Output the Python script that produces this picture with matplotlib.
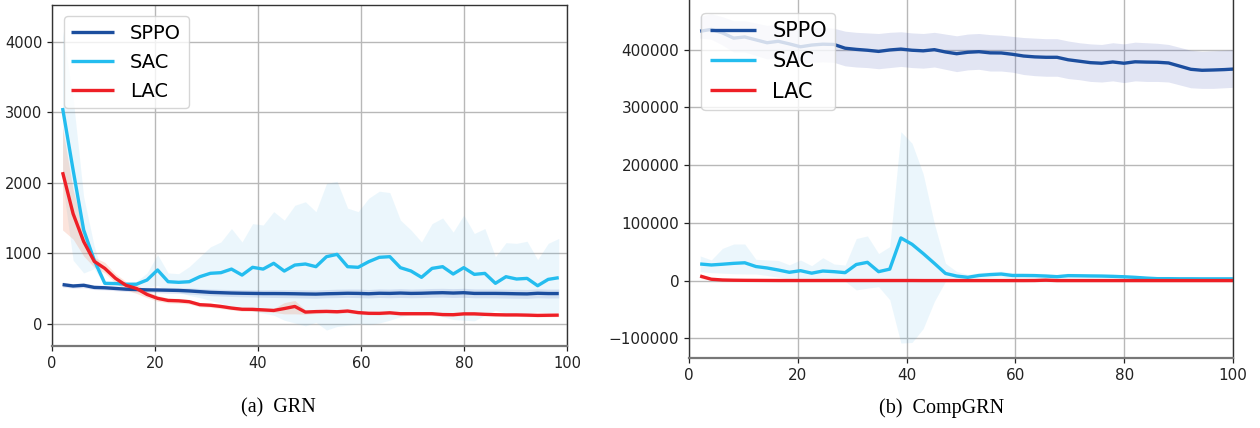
import numpy as np
import matplotlib
matplotlib.use("Agg")
import matplotlib.pyplot as plt

# ---------------- data ----------------
# training step axis (GRN: 48 evaluations, CompGRN: 49 evaluations)
steps_grn = np.arange(1, 49) * 2.05
steps_comp = np.arange(1, 50) * 2.05

# GRN
grn_sppo = [555, 535, 545, 515, 510, 500, 490, 485, 480, 478, 475, 472, 465, 455, 445, 440,
            435, 432, 430, 428, 428, 427, 425, 422, 420, 425, 428, 432, 430, 425, 432, 430,
            435, 430, 432, 437, 440, 435, 440, 430, 430, 430, 428, 425, 423, 432, 428, 428]
grn_sppo_lo = [520, 505, 510, 485, 480, 468, 458, 452, 445, 440, 432, 430, 420, 410, 398, 392,
               386, 382, 378, 375, 372, 370, 368, 365, 362, 368, 370, 374, 370, 365, 372, 368,
               372, 368, 370, 375, 378, 372, 375, 368, 368, 366, 364, 362, 360, 368, 364, 365]
grn_sppo_hi = [590, 568, 580, 548, 545, 535, 525, 520, 518, 516, 515, 512, 508, 500, 492, 488,
               485, 482, 480, 480, 482, 482, 482, 480, 478, 485, 490, 492, 492, 486, 494, 492,
               498, 492, 495, 500, 502, 498, 502, 494, 494, 494, 492, 490, 488, 496, 492, 492]

grn_sac = [3060, 2180, 1330, 900, 573, 570, 560, 560, 620, 762, 596, 587, 596, 667, 715, 724,
           775, 690, 800, 775, 857, 747, 832, 847, 809, 951, 984, 809, 800, 880, 942, 951,
           795, 748, 658, 785, 809, 705, 795, 700, 714, 573, 667, 634, 643, 539, 629, 653]
grn_sac_lo = [2000, 900, 720, 780, 545, 540, 535, 530, 520, 540, 470, 450, 400, 370, 330, 290,
              220, 220, 180, 150, 120, 50, 10, -30, 20, -90, -40, -20, 0, -10, 10, 50,
              100, 130, 170, 120, 100, 60, 50, 40, 120, 190, 150, 130, 140, 170, 150, 160]
grn_sac_hi = [4150, 3200, 1800, 1100, 600, 590, 580, 600, 720, 980, 720, 710, 810, 950, 1090, 1160,
              1350, 1160, 1420, 1400, 1590, 1470, 1680, 1730, 1590, 1990, 2020, 1640, 1590, 1780, 1880, 1860,
              1470, 1330, 1160, 1420, 1500, 1300, 1540, 1280, 1350, 950, 1150, 1140, 1170, 910, 1140, 1210]

grn_lac = [2150, 1560, 1165, 885, 785, 645, 545, 500, 415, 360, 330, 325, 312, 270, 262, 245,
           222, 205, 204, 196, 188, 215, 245, 165, 172, 175, 170, 180, 158, 148, 147, 155,
           142, 142, 142, 142, 130, 128, 140, 140, 133, 128, 125, 125, 122, 118, 120, 122]
grn_lac_lo = [1330, 1200, 960, 800, 720, 580, 480, 430, 370, 320, 295, 290, 280, 240, 232, 215,
              195, 178, 175, 168, 160, 140, 140, 135, 145, 150, 145, 155, 135, 125, 125, 132,
              120, 120, 120, 120, 108, 106, 118, 118, 112, 106, 104, 104, 100, 96, 98, 100]
grn_lac_hi = [2780, 1900, 1350, 940, 870, 710, 600, 560, 460, 400, 365, 360, 345, 300, 292, 275,
              250, 232, 232, 224, 216, 300, 330, 195, 200, 200, 195, 205, 180, 170, 170, 178,
              164, 164, 164, 164, 152, 150, 162, 162, 154, 150, 146, 146, 144, 140, 142, 144]

# CompGRN
comp_sppo = [432000, 435000, 429000, 420000, 422000, 417000, 412000, 414500, 410000, 405000,
             408000, 409500, 409000, 402500, 400500, 399000, 397000, 399500, 401000, 399000,
             398000, 400000, 396000, 393000, 395500, 396500, 394500, 394300, 392000, 389000,
             387500, 386800, 386800, 382500, 380000, 377500, 376500, 378700, 376500, 379000,
             378500, 378200, 377000, 371500, 366000, 364300, 364800, 365500, 366600]
comp_sppo_lo = [420000, 418000, 408000, 396000, 396000, 390000, 384000, 386000, 381000, 376000,
                378000, 379000, 378000, 372000, 370000, 369000, 367000, 369000, 371000, 369000,
                368000, 370000, 366000, 362000, 365000, 366000, 363000, 363000, 361000, 357000,
                355000, 354000, 354000, 350000, 348000, 345000, 344000, 346000, 343000, 346000,
                345000, 345000, 344000, 339000, 334000, 333000, 333000, 334000, 335000]
comp_sppo_hi = [458000, 462000, 457000, 450000, 450000, 446000, 442000, 444000, 440000, 436000,
                438000, 438000, 437000, 432000, 430000, 429000, 428000, 430000, 431000, 429000,
                428000, 430000, 427000, 424000, 427000, 428000, 426000, 425000, 423000, 421000,
                420000, 419000, 419000, 415000, 412000, 410000, 409000, 412000, 410000, 413000,
                412000, 411000, 409000, 404000, 399000, 397000, 398000, 399000, 400000]

comp_sac = [28900, 27200, 28500, 30000, 31000, 24500, 22000, 18500, 14500, 17300,
            13000, 16700, 15600, 13900, 28000, 31800, 15600, 20000, 74000, 63000,
            47000, 30000, 12500, 8000, 5800, 9000, 10500, 11500, 9000, 9000,
            8800, 8000, 6900, 8700, 8500, 8200, 8000, 7500, 6800, 5800,
            4500, 3500, 3500, 3300, 3300, 3200, 3200, 3200, 3200]
comp_sac_lo = [15600, 14000, 13000, 12000, 11600, 11600, 9000, 6000, 2400, 3000,
               1000, 2000, 0, -1000, -16000, -13000, -10400, -33000, -108000, -107000,
               -83000, -36000, -1000, 1000, 1500, 4000, 5500, 6500, 4000, 4500,
               4500, 3500, 2800, 4400, 4500, 4400, 4500, 4000, 3600, 2800,
               2000, 1500, 1800, 1600, 1600, 1600, 1600, 1600, 1600]
comp_sac_hi = [42800, 36000, 56000, 63500, 63500, 37000, 36000, 35000, 27500, 35800,
               26000, 39800, 29000, 27000, 73000, 77500, 47000, 59000, 258000, 238000,
               185000, 99000, 30000, 16000, 11000, 14000, 15500, 16500, 14000, 13500,
               13000, 12500, 11000, 13000, 12500, 12000, 11500, 11000, 10000, 8800,
               7000, 5500, 5200, 5000, 5000, 4800, 4800, 4800, 4800]

comp_lac = [8000, 2500, 1200, 800, 600, 500, 400, 300, 300, 300,
            300, 300, 300, 300, 300, 300, 300, 300, 300, 300,
            200, 200, 200, 200, 200, 200, 200, 200, 200, 200,
            300, 900, 200, 200, 200, 200, 200, 200, 200, 200,
            200, 200, 200, 200, 200, 200, 200, 200, 200]
comp_lac_lo = [4000, 1000, 400, 200, 100, 0, 0, -100, -100, -100,
               -100, -100, -100, -100, -100, -100, -100, -100, -100, -100,
               -200, -200, -200, -200, -200, -200, -200, -200, -200, -200,
               -100, 0, -200, -200, -200, -200, -200, -200, -200, -200,
               -200, -200, -200, -200, -200, -200, -200, -200, -200]
comp_lac_hi = [12000, 4500, 2200, 1500, 1100, 1000, 800, 700, 700, 700,
               700, 700, 700, 700, 700, 700, 700, 700, 700, 700,
               600, 600, 600, 600, 600, 600, 600, 600, 600, 600,
               800, 2000, 600, 600, 600, 600, 600, 600, 600, 600,
               600, 600, 600, 600, 600, 600, 600, 600, 600]

methods = ["SPPO", "SAC", "LAC"]
line_colors = {"SPPO": "#1c4e9e", "SAC": "#24bdef", "LAC": "#ee1f26"}
band_colors = {"SPPO": "#3f51b5", "SAC": "#4fb6e8", "LAC": "#f07a50"}
band_alpha = {"SPPO": 0.15, "SAC": 0.11, "LAC": 0.2}

# ---------------- figure ----------------
W, H = 1260, 428
fig = plt.figure(figsize=(W / 100, H / 100), dpi=100)

def px_axes(x0, y0, x1, y1):
    return fig.add_axes([x0 / W, 1 - y1 / H, (x1 - x0) / W, (y1 - y0) / H])

ax1 = px_axes(52, 4.7, 567, 346)
ax2 = px_axes(689, 0, 1233, 358.3)

def style(ax, yticks, labelsize):
    ax.set_facecolor("white")
    ax.grid(True, color="#b8b8b8", linewidth=1.0)
    ax.set_axisbelow(True)
    ax.set_xlim(0, 100)
    ax.set_xticks([0, 20, 40, 60, 80, 100])
    ax.set_yticks(yticks)
    ax.tick_params(labelsize=labelsize, colors="#222222", length=3.5, width=0.9)
    for s in ax.spines.values():
        s.set_color("#333333")
        s.set_linewidth(1.0)
    ax.spines["bottom"].set_color("#777777")
    ax.spines["bottom"].set_linewidth(1.6)

def draw(ax, x, series, legend_size):
    for name in methods:
        mean, lo, hi = series[name]
        ax.fill_between(x, lo, hi, color=band_colors[name], alpha=band_alpha[name],
                        linewidth=0)
    for name in methods:
        mean, lo, hi = series[name]
        ax.plot(x, mean, color=line_colors[name], linewidth=2.4, label=name,
                solid_capstyle="butt")
    leg = ax.legend(loc="upper left", fontsize=legend_size, framealpha=0.8,
                    edgecolor="#cccccc", borderaxespad=0.6, handlelength=2.2)
    leg.get_frame().set_linewidth(1.0)

draw(ax1, steps_grn, {"SPPO": (grn_sppo, grn_sppo_lo, grn_sppo_hi),
                      "SAC": (grn_sac, grn_sac_lo, grn_sac_hi),
                      "LAC": (grn_lac, grn_lac_lo, grn_lac_hi)}, 14)
style(ax1, [0, 1000, 2000, 3000, 4000], 10.5)
ax1.set_ylim(-316, 4525)

draw(ax2, steps_comp, {"SPPO": (comp_sppo, comp_sppo_lo, comp_sppo_hi),
                       "SAC": (comp_sac, comp_sac_lo, comp_sac_hi),
                       "LAC": (comp_lac, comp_lac_lo, comp_lac_hi)}, 15)
style(ax2, [-100000, 0, 100000, 200000, 300000, 400000], 11)
ax2.set_ylim(-134400, 486000)
ax2.spines["top"].set_visible(False)

# sub-figure captions
fig.text(278 / W, 1 - 408 / H, "(a)  GRN", ha="center", va="center",
         fontsize=14.5, family="Liberation Serif")
fig.text(942 / W, 1 - 408 / H, "(b)  CompGRN", ha="center", va="center",
         fontsize=14.5, family="Liberation Serif")

fig.savefig("out.png", dpi=100)
